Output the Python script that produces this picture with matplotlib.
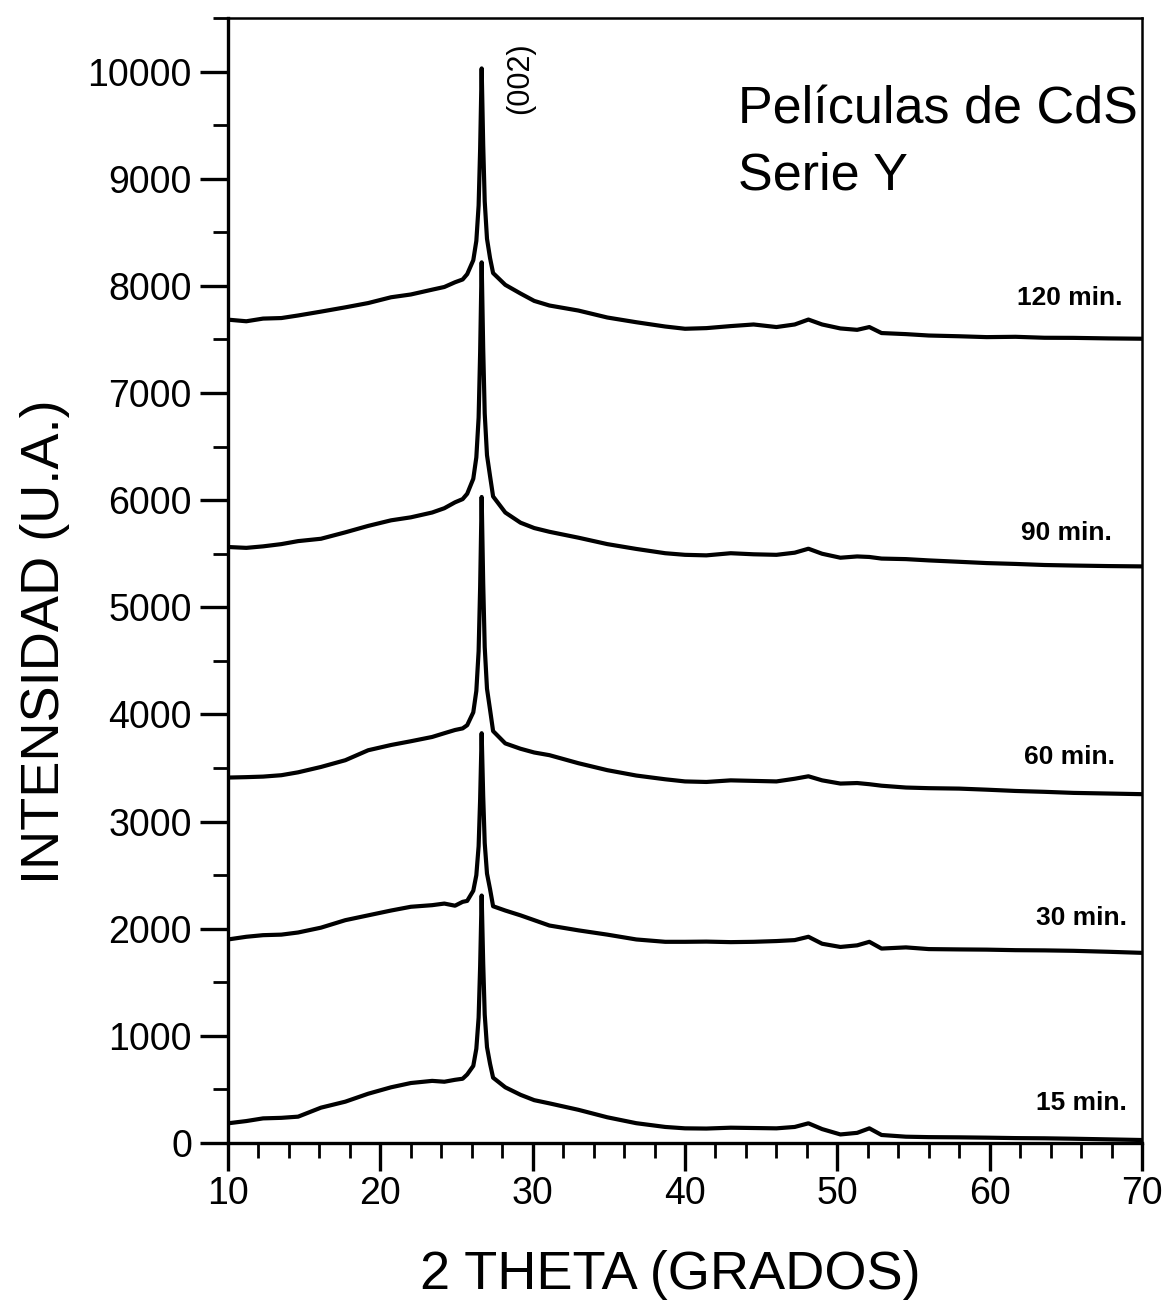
import matplotlib
matplotlib.use("Agg")
import matplotlib.pyplot as plt
from matplotlib.ticker import MultipleLocator

plt.rcParams['font.family'] = ['Liberation Sans', 'DejaVu Sans']

# 2 theta grid (degrees), shared by all patterns
two_theta = [10.0, 11.2, 12.3, 13.5, 14.6, 16.1, 17.7, 19.2, 20.7, 22.0,
             23.4, 24.2, 24.9, 25.4, 25.7, 26.1, 26.3, 26.45, 26.55, 26.65,
             26.75, 26.85, 27.0, 27.2, 27.4, 28.2, 29.2, 30.1, 31.1, 33.0,
             34.9, 36.8, 38.7, 40.0, 41.4, 43.0, 44.5, 46.0, 47.2, 48.1,
             49.0, 50.2, 51.3, 52.1, 52.9, 54.5, 56.0, 58.0, 59.8, 61.7,
             63.6, 65.5, 67.8, 70.0]

# intensities (already offset as drawn)
i_120 = [7685, 7670, 7695, 7700, 7724, 7760, 7800, 7840, 7894, 7920,
         7965, 7990, 8034, 8060, 8110, 8240, 8420, 8750, 9280, 10030,
         9320, 8790, 8440, 8260, 8120, 8010, 7929, 7860, 7817, 7770,
         7705, 7661, 7621, 7600, 7606, 7625, 7640, 7616, 7640, 7686,
         7640, 7603, 7590, 7616, 7560, 7550, 7537, 7530, 7522, 7525,
         7516, 7515, 7510, 7507]
i_90 = [5563, 5555, 5569, 5590, 5618, 5640, 5700, 5760, 5812, 5840,
        5885, 5925, 5980, 6010, 6060, 6200, 6400, 6770, 7380, 8220,
        7420, 6810, 6420, 6225, 6035, 5885, 5790, 5740, 5705, 5650,
        5590, 5545, 5505, 5490, 5485, 5505, 5495, 5490, 5510, 5547,
        5500, 5463, 5475, 5470, 5455, 5450, 5438, 5425, 5413, 5405,
        5395, 5390, 5385, 5382]
i_60 = [3411, 3415, 3420, 3433, 3460, 3510, 3573, 3666, 3715, 3750,
        3790, 3825, 3855, 3870, 3900, 4020, 4220, 4590, 5190, 6030,
        5230, 4630, 4240, 4045, 3845, 3730, 3680, 3645, 3620, 3545,
        3480, 3430, 3395, 3375, 3370, 3385, 3380, 3375, 3400, 3423,
        3385, 3355, 3360, 3349, 3335, 3318, 3312, 3308, 3298, 3286,
        3278, 3268, 3262, 3256]
i_30 = [1900, 1925, 1940, 1945, 1965, 2010, 2080, 2125, 2170, 2205,
        2220, 2235, 2215, 2251, 2260, 2355, 2500, 2770, 3210, 3825,
        3240, 2800, 2515, 2370, 2210, 2170, 2125, 2080, 2030, 1985,
        1945, 1900, 1878, 1878, 1880, 1875, 1878, 1885, 1894, 1925,
        1860, 1830, 1845, 1878, 1815, 1826, 1810, 1807, 1805, 1800,
        1798, 1794, 1785, 1775]
i_15 = [184, 205, 230, 235, 246, 330, 386, 460, 520, 560,
        580, 572, 590, 600, 640, 720, 880, 1170, 1650, 2310,
        1680, 1200, 895, 740, 610, 520, 450, 400, 370, 310,
        240, 185, 150, 137, 135, 143, 140, 137, 150, 184,
        130, 80, 95, 137, 75, 59, 55, 53, 50, 46,
        44, 40, 34, 28]

labels = ['120 min.', '90 min.', '60 min.', '30 min.', '15 min.']
series = [i_120, i_90, i_60, i_30, i_15]
label_x = [68.7, 68.0, 68.2, 69.0, 69.0]
label_y = [7890, 5690, 3600, 2100, 373]

fig = plt.figure(figsize=(11.67, 13.09), dpi=100)
ax = fig.add_axes([0.1954, 0.1268, 0.9786 - 0.1954, 0.9862 - 0.1268])

for yy in series:
    ax.plot(two_theta, yy, color='black', lw=3.0, solid_joinstyle='round')

for lab, lx, ly in zip(labels, label_x, label_y):
    ax.text(lx, ly, lab, ha='right', va='center', fontsize=19,
            fontweight='bold')

ax.text(29.2, 9940, '(002)', rotation=90, ha='center', va='center',
        fontsize=22)
ax.text(43.5, 9640, 'Películas de CdS', ha='left', va='center', fontsize=37.5)
ax.text(43.5, 9030, 'Serie Y', ha='left', va='center', fontsize=37.5)

ax.set_xlim(10, 70)
ax.set_ylim(0, 10500)
ax.xaxis.set_major_locator(MultipleLocator(10))
ax.xaxis.set_minor_locator(MultipleLocator(2))
ax.yaxis.set_major_locator(MultipleLocator(1000))
ax.yaxis.set_minor_locator(MultipleLocator(500))
ax.set_yticks(range(0, 10001, 1000))

ax.tick_params(which='major', direction='out', length=20, width=2.4,
               labelsize=27, top=False, right=False)
ax.tick_params(which='minor', direction='out', length=11, width=2.0,
               top=False, right=False)
ax.tick_params(axis='y', which='major', pad=6)
ax.tick_params(axis='x', which='major', pad=4)

for side in ['left', 'bottom']:
    ax.spines[side].set_linewidth(2.4)
for side in ['top', 'right']:
    ax.spines[side].set_linewidth(1.8)

ax.set_xlabel('2 THETA (GRADOS)', fontsize=39, va='center')
ax.xaxis.set_label_coords(0.4836, -0.1173)
ax.set_ylabel('INTENSIDAD (U.A.)', fontsize=39, va='center')
ax.yaxis.set_label_coords(-0.2002, 0.4453)

fig.savefig('out.png', dpi=100)
